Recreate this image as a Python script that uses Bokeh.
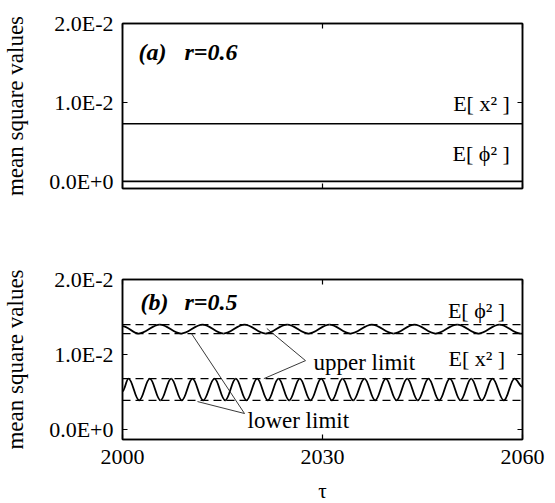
from bokeh.plotting import figure
from bokeh.layouts import column
from bokeh.models import (ColumnDataSource, Label, LinearAxis, FixedTicker, Range1d,
                          CustomLabelingPolicy)
from bokeh.embed import file_html
from bokeh.resources import INLINE

# ---------------- data ----------------
x_tick_values = [2000, 2030, 2060]
y_tick_values = [0.0, 0.01, 0.02]
y_tick_labels = ["0.0E+0", "1.0E-2", "2.0E-2"]

# panel (a): r = 0.6, constant mean square values
a_tau = [2000, 2060]
a_x2 = [0.0073, 0.0073]
a_phi2 = [0.0, 0.0]

# panel (b): r = 0.5, limits
b_limit_tau = [2000, 2060]
b_phi2_upper = [0.0140, 0.0140]
b_phi2_lower = [0.0128, 0.0128]
b_x2_upper = [0.0068, 0.0068]
b_x2_lower = [0.0039, 0.0039]

# panel (b): oscillating E[x^2], read at its turning points
b_x2_tau = [2000.0, 2000.9, 2002.5, 2004.1, 2005.7, 2007.3, 2008.9, 2010.5, 2012.1,
            2013.8, 2015.4, 2017.0, 2018.6, 2020.2, 2021.8, 2023.4, 2025.0, 2026.6,
            2028.2, 2029.8, 2031.4, 2033.0, 2034.6, 2036.3, 2037.9, 2039.5, 2041.1,
            2042.7, 2044.3, 2045.9, 2047.5, 2049.1, 2050.7, 2052.3, 2053.9, 2055.5,
            2057.2, 2058.8, 2060.0]
b_x2_val = [0.0051, 0.0068, 0.0039, 0.0068, 0.0039, 0.0068, 0.0039, 0.0068, 0.0039,
            0.0068, 0.0039, 0.0068, 0.0039, 0.0068, 0.0039, 0.0068, 0.0039, 0.0068,
            0.0039, 0.0068, 0.0039, 0.0068, 0.0039, 0.0068, 0.0039, 0.0068, 0.0039,
            0.0068, 0.0039, 0.0068, 0.0039, 0.0068, 0.0039, 0.0068, 0.0039, 0.0068,
            0.0039, 0.0068, 0.0057]

# panel (b): oscillating E[phi^2], read at its turning points
b_phi2_tau = [2000.0, 2002.4, 2005.6, 2008.8, 2012.0, 2015.15, 2018.3, 2021.45, 2024.7,
              2027.9, 2031.05, 2034.2, 2037.4, 2040.65, 2043.8, 2046.95, 2050.2,
              2053.4, 2056.55, 2059.7, 2060.0]
b_phi2_val = [0.0138, 0.0128, 0.0140, 0.0128, 0.0140, 0.0128, 0.0140, 0.0128, 0.0140,
              0.0128, 0.0140, 0.0128, 0.0140, 0.0128, 0.0140, 0.0128, 0.0140,
              0.0128, 0.0140, 0.0128, 0.0128]

# leader lines: label anchor (tau, value) and target points
upper_anchor = (2027.45, 0.0092)
upper_targets_tau = [2021.65, 2021.2]
upper_targets_val = [0.01348, 0.0068]
lower_anchor = (2018.3, 0.00216)
lower_targets_tau = [2010.35, 2011.25]
lower_targets_val = [0.0128, 0.00375]

SERIF = "Liberation Serif"
overrides = {v: s for v, s in zip(y_tick_values, y_tick_labels)}


def no_labels():
    return CustomLabelingPolicy(code="""
for (const i of indices) {
  indices.unset(i)
}
return indices
""")


def curve_source(taus, vals, k=0.3642):
    x0, x1 = taus[:-1], taus[1:]
    y0, y1 = vals[:-1], vals[1:]
    cx0 = [a + k * (b - a) for a, b in zip(x0, x1)]
    cx1 = [b - k * (b - a) for a, b in zip(x0, x1)]
    return ColumnDataSource(dict(x0=x0, y0=y0, x1=x1, y1=y1,
                                 cx0=cx0, cy0=y0, cx1=cx1, cy1=y1))


def make_panel(y_start, frame_h, top, bottom, show_x_labels):
    p = figure(frame_width=400, frame_height=frame_h,
               min_border_left=122, min_border_right=33,
               min_border_top=top, min_border_bottom=bottom,
               x_range=Range1d(2000, 2060), y_range=Range1d(y_start, 0.02),
               output_backend="svg", toolbar_location=None,
               x_axis_location=None, y_axis_location=None)
    p.grid.visible = False
    p.outline_line_color = "black"
    p.outline_line_width = 1.5
    p.background_fill_color = "white"
    p.border_fill_color = "white"

    yl = LinearAxis(ticker=FixedTicker(ticks=y_tick_values),
                    major_label_overrides=overrides,
                    axis_label="mean square values")
    xb = LinearAxis(ticker=FixedTicker(ticks=x_tick_values),
                    axis_label="τ" if show_x_labels else None)
    yr = LinearAxis(ticker=FixedTicker(ticks=y_tick_values))
    xt = LinearAxis(ticker=FixedTicker(ticks=x_tick_values))
    for ax in (yl, xb, yr, xt):
        ax.major_tick_in = 5
        ax.major_tick_out = 0
        ax.minor_tick_line_color = None
        ax.axis_line_color = "black"
        ax.axis_line_width = 1.5
        ax.major_tick_line_color = "black"
        ax.major_tick_line_width = 1.2
        ax.major_label_text_font = SERIF
        ax.major_label_text_font_size = "22px"
        ax.major_label_text_color = "black"
        ax.axis_label_text_font = SERIF
        ax.axis_label_text_font_style = "normal"
        ax.axis_label_text_color = "black"
    yl.major_label_standoff = 9
    yl.axis_label_text_font_size = "23px"
    yl.axis_label_standoff = 18
    xb.major_label_standoff = 10
    xb.axis_label_text_font_size = "21px"
    xb.axis_label_standoff = 12
    for ax in (yr, xt):
        ax.major_label_policy = no_labels()
        ax.major_label_standoff = 0
    if not show_x_labels:
        xb.major_label_policy = no_labels()
        xb.major_label_standoff = 0
    p.add_layout(yl, "left")
    p.add_layout(xb, "below")
    p.add_layout(yr, "right")
    p.add_layout(xt, "above")
    return p


def add_label(p, x, y, text, align="left", size="22px", style="normal"):
    p.add_layout(Label(x=x, y=y, text=text, text_align=align, text_baseline="middle",
                       text_font=SERIF, text_font_size=size, text_font_style=style,
                       text_color="black"))


# ---------------- panel (a) ----------------
pa = make_panel(-0.0009, 165, 23, 52, False)
pa.line(a_tau, a_x2, line_color="black", line_width=1.6)
pa.line(a_tau, a_phi2, line_color="black", line_width=1.6)
add_label(pa, 2002.4, 0.01633, "(a)", size="24px", style="bold italic")
add_label(pa, 2009.3, 0.01633, "r=0.6", size="24px", style="bold italic")
add_label(pa, 2058.1, 0.00987, "E[ x² ]", align="right")
add_label(pa, 2058.1, 0.00353, "E[ ϕ² ]", align="right")

# ---------------- panel (b) ----------------
pb = make_panel(-0.0013, 160, 39, 64, True)
for lim in (b_phi2_upper, b_phi2_lower, b_x2_upper, b_x2_lower):
    pb.line(b_limit_tau, lim, line_color="black", line_width=1.3, line_dash="8 5")
pb.bezier(x0="x0", y0="y0", x1="x1", y1="y1", cx0="cx0", cy0="cy0", cx1="cx1", cy1="cy1",
          source=curve_source(b_x2_tau, b_x2_val), line_color="black", line_width=1.8)
pb.bezier(x0="x0", y0="y0", x1="x1", y1="y1", cx0="cx0", cy0="cy0", cx1="cx1", cy1="cy1",
          source=curve_source(b_phi2_tau, b_phi2_val), line_color="black", line_width=1.8)
pb.segment(x0=[upper_anchor[0]] * 2, y0=[upper_anchor[1]] * 2,
           x1=upper_targets_tau, y1=upper_targets_val, line_color="#222222", line_width=0.9)
pb.segment(x0=[lower_anchor[0]] * 2, y0=[lower_anchor[1]] * 2,
           x1=lower_targets_tau, y1=lower_targets_val, line_color="#222222", line_width=0.9)
add_label(pb, 2002.7, 0.01707, "(b)", size="24px", style="bold italic")
add_label(pb, 2009.3, 0.01707, "r=0.5", size="24px", style="bold italic")
add_label(pb, 2057.4, 0.01587, "E[ ϕ² ]", align="right")
add_label(pb, 2057.4, 0.00948, "E[ x² ]", align="right")
add_label(pb, 2028.65, 0.00895, "upper limit", size="23px")
add_label(pb, 2018.75, 0.00123, "lower limit", size="23px")

layout = column(pa, pb, spacing=0)
open("out.html", "w").write(file_html(layout, INLINE))
